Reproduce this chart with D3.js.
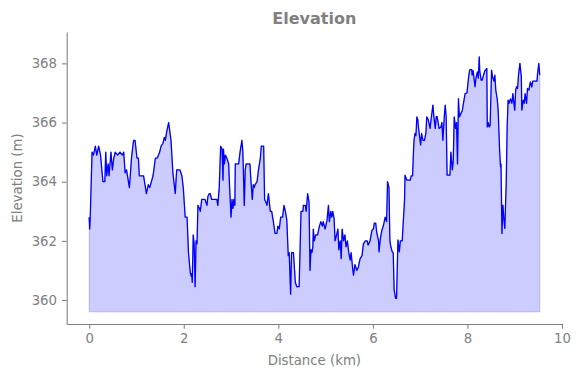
<!DOCTYPE html>
<html>
<head>
<meta charset="utf-8">
<script src="https://cdn.jsdelivr.net/npm/d3@7"></script>
<style>
  body { margin: 0; background: #fff; }
  svg { display: block; font-family: "DejaVu Sans", sans-serif; }
  .axis text { fill: #808080; font-size: 13.3px; font-family: "DejaVu Sans", sans-serif; }
  .axis path, .axis line { stroke: #808080; stroke-width: 1.07; }
</style>
</head>
<body>
<svg id="chart" width="580" height="378"></svg>
<script>
// distance along the route (km) and elevation (m)
const distKm = [
  0.00, 0.01, 0.02, 0.06, 0.09, 0.13, 0.16, 0.20, 0.24, 0.29, 0.33, 0.35, 0.37, 0.40, 0.42, 0.46,
  0.49, 0.52, 0.55, 0.60, 0.65, 0.70, 0.73, 0.76, 0.79, 0.85, 0.90, 0.94, 0.97, 1.01, 1.04, 1.06,
  1.15, 1.21, 1.25, 1.28, 1.35, 1.40, 1.44, 1.49, 1.52, 1.56, 1.59, 1.61, 1.64, 1.68, 1.73, 1.77,
  1.82, 1.85, 1.92, 1.96, 1.99, 2.03, 2.07, 2.10, 2.14, 2.16, 2.17, 2.18, 2.20, 2.22, 2.24, 2.26,
  2.28, 2.30, 2.33, 2.35, 2.38, 2.42, 2.45, 2.49, 2.51, 2.54, 2.56, 2.59, 2.70, 2.72, 2.75, 2.78,
  2.81, 2.83, 2.84, 2.86, 2.88, 2.91, 2.95, 2.97, 3.00, 3.02, 3.04, 3.06, 3.08, 3.09, 3.16, 3.19,
  3.23, 3.25, 3.28, 3.30, 3.32, 3.40, 3.42, 3.45, 3.47, 3.49, 3.51, 3.55, 3.58, 3.62, 3.64, 3.69,
  3.71, 3.74, 3.76, 3.79, 3.83, 3.86, 3.90, 3.93, 3.97, 3.99, 4.02, 4.05, 4.09, 4.12, 4.15, 4.18,
  4.21, 4.23, 4.26, 4.28, 4.32, 4.36, 4.39, 4.44, 4.48, 4.52, 4.53, 4.57, 4.59, 4.62, 4.65, 4.67,
  4.69, 4.71, 4.73, 4.74, 4.76, 4.79, 4.83, 4.87, 4.90, 4.93, 4.95, 4.99, 5.03, 5.06, 5.08, 5.11,
  5.13, 5.15, 5.18, 5.20, 5.24, 5.26, 5.28, 5.31, 5.33, 5.35, 5.38, 5.41, 5.43, 5.46, 5.49, 5.52,
  5.54, 5.57, 5.59, 5.62, 5.66, 5.69, 5.73, 5.77, 5.80, 5.84, 5.88, 5.90, 5.94, 5.98, 6.01, 6.03,
  6.06, 6.08, 6.12, 6.13, 6.16, 6.19, 6.22, 6.26, 6.29, 6.31, 6.34, 6.36, 6.38, 6.41, 6.43, 6.45,
  6.48, 6.50, 6.53, 6.56, 6.58, 6.62, 6.67, 6.68, 6.72, 6.79, 6.81, 6.84, 6.86, 6.87, 6.89, 6.91,
  6.93, 6.95, 6.96, 6.98, 7.01, 7.03, 7.06, 7.09, 7.12, 7.14, 7.17, 7.21, 7.23, 7.27, 7.29, 7.32,
  7.34, 7.36, 7.40, 7.44, 7.46, 7.48, 7.51, 7.53, 7.55, 7.57, 7.60, 7.63, 7.65, 7.68, 7.70, 7.72,
  7.75, 7.77, 7.79, 7.81, 7.83, 7.86, 7.89, 7.91, 7.95, 7.99, 8.01, 8.03, 8.05, 8.09, 8.10, 8.12,
  8.16, 8.18, 8.21, 8.23, 8.25, 8.26, 8.29, 8.31, 8.34, 8.37, 8.41, 8.42, 8.44, 8.46, 8.48, 8.51,
  8.53, 8.56, 8.58, 8.60, 8.63, 8.65, 8.68, 8.70, 8.71, 8.73, 8.75, 8.77, 8.79, 8.82, 8.84, 8.86,
  8.88, 8.91, 8.94, 8.96, 8.98, 9.00, 9.02, 9.04, 9.06, 9.08, 9.11, 9.14, 9.15, 9.18, 9.20, 9.22,
  9.25, 9.27, 9.30, 9.33, 9.36, 9.38, 9.47, 9.48, 9.51, 9.53
];

const elevM = [
  362.8, 362.4, 362.7, 365.0, 364.9, 365.2, 364.9, 365.2, 364.9, 364.0, 364.0, 365.0, 364.2, 364.6, 364.2, 365.0,
  364.4, 364.8, 365.0, 364.9, 365.0, 364.9, 365.0, 364.3, 364.4, 363.8, 364.9, 365.4, 365.4, 364.8, 364.8, 364.2,
  364.2, 363.6, 363.9, 363.8, 364.2, 364.8, 364.8, 365.0, 365.2, 365.3, 365.5, 365.4, 365.7, 366.0, 365.4, 364.3,
  363.6, 364.4, 364.4, 364.2, 363.8, 362.8, 362.8, 361.6, 360.9, 360.8, 360.9, 360.6, 362.2, 361.9, 360.45, 362.0,
  361.9, 363.2, 363.1, 363.0, 363.4, 363.4, 363.4, 363.2, 363.5, 363.6, 363.6, 363.4, 363.4, 363.2, 363.8, 365.2,
  365.1, 364.05, 365.1, 364.6, 364.9, 364.8, 364.6, 363.8, 362.8, 363.4, 363.1, 363.4, 363.2, 364.6, 364.6, 365.0,
  365.4, 365.0, 363.2, 364.4, 364.6, 364.6, 364.05, 363.4, 363.9, 363.8, 363.9, 364.0, 364.4, 364.8, 365.2, 365.2,
  363.4, 363.3, 363.2, 363.6, 363.0, 363.0, 362.6, 362.25, 362.25, 362.5, 362.4, 362.8, 362.8, 363.2, 363.0, 362.7,
  361.5, 361.6, 360.2, 361.6, 361.6, 360.6, 360.45, 360.45, 363.0, 363.0, 363.2, 363.2, 363.0, 363.6, 363.3, 361.0,
  361.7, 361.6, 361.8, 362.4, 362.0, 362.2, 362.2, 362.5, 362.65, 362.5, 362.65, 362.4, 362.7, 363.2, 362.65, 363.0,
  362.8, 363.0, 362.75, 362.0, 362.25, 362.4, 361.7, 362.0, 361.4, 362.4, 362.0, 362.2, 361.8, 362.0, 361.6, 361.35,
  361.6, 361.1, 360.84, 361.2, 361.0, 361.1, 361.4, 361.5, 361.9, 362.0, 362.0, 361.86, 362.0, 362.36, 362.4, 362.6,
  362.6, 362.3, 362.0, 361.63, 362.1, 362.36, 362.5, 362.8, 362.65, 364.0, 363.8, 362.0, 361.8, 361.63, 361.6, 360.34,
  360.06, 360.06, 362.03, 361.63, 362.0, 362.0, 363.4, 364.22, 364.05, 364.05, 364.2, 364.2, 365.07, 365.4, 365.63, 365.55,
  366.19, 366.1, 365.9, 365.63, 365.24, 365.63, 365.4, 365.4, 365.63, 366.19, 366.1, 365.8, 366.1, 366.59, 366.2, 365.8,
  366.2, 366.2, 365.8, 365.85, 366.0, 365.4, 366.2, 366.59, 366.2, 364.22, 364.22, 364.22, 365.0, 364.4, 364.7, 366.19,
  365.8, 366.0, 364.6, 366.81, 366.19, 366.3, 366.4, 366.6, 366.98, 367.0, 367.32, 367.6, 367.79, 367.79, 367.6, 367.75,
  367.21, 367.5, 367.71, 367.5, 368.22, 367.75, 367.43, 367.43, 367.6, 367.75, 367.83, 365.85, 366.0, 365.85, 365.9, 367.77,
  367.55, 367.4, 367.6, 367.09, 366.8, 366.42, 365.07, 364.5, 364.6, 362.25, 363.21, 362.75, 362.42, 363.94, 365.85, 366.76,
  366.65, 366.8, 366.65, 366.98, 366.7, 366.42, 367.1, 367.21, 367.15, 367.6, 368.0, 367.55, 366.42, 366.76, 366.65, 366.98,
  366.65, 367.15, 367.1, 367.37, 367.2, 367.4, 367.4, 367.6, 368.0, 367.6
];

const fillBase = 359.6;
const xTicks = [0, 2, 4, 6, 8, 10];
const yTicks = [360, 362, 364, 366, 368];
const xLimits = [-0.476, 10.0];
const yLimits = [359.19, 369.06];

const data = distKm.map((d, i) => ({ x: d, y: elevM[i] }));

const width = 580;
const height = 378;
const margin = { top: 32, right: 18, bottom: 54, left: 66.7 };

const svg = d3.select('#chart');

const x = d3.scaleLinear()
  .domain(xLimits)
  .range([margin.left, width - margin.right]);

const y = d3.scaleLinear()
  .domain(yLimits)
  .range([height - margin.bottom, margin.top]);

// filled area under the profile
svg.append('path')
  .datum(data)
  .attr('d', d3.area().x(d => x(d.x)).y0(y(fillBase)).y1(d => y(d.y)))
  .attr('fill', 'rgba(0,0,255,0.2)')
  .attr('stroke', 'rgba(0,0,255,0.2)')
  .attr('stroke-width', 1);

// the profile line itself
svg.append('path')
  .datum(data)
  .attr('d', d3.line().x(d => x(d.x)).y(d => y(d.y)))
  .attr('fill', 'none')
  .attr('stroke', '#0000ff')
  .attr('stroke-width', 1.3)
  .attr('stroke-linejoin', 'round');

const tickLen = 4.67;

svg.append('g')
  .attr('class', 'axis')
  .attr('transform', `translate(0,${height - margin.bottom})`)
  .call(d3.axisBottom(x).tickValues(xTicks).tickFormat(d3.format('d'))
    .tickSize(tickLen).tickSizeOuter(0).tickPadding(5));

svg.append('g')
  .attr('class', 'axis')
  .attr('transform', `translate(${margin.left},0)`)
  .call(d3.axisLeft(y).tickValues(yTicks).tickFormat(d3.format('d'))
    .tickSize(tickLen).tickSizeOuter(0).tickPadding(5));

svg.selectAll('.axis .domain').attr('stroke', '#808080');

// title and axis labels
svg.append('text')
  .attr('x', (margin.left + width - margin.right) / 2)
  .attr('y', 24)
  .attr('text-anchor', 'middle')
  .attr('fill', '#808080')
  .attr('font-size', 16)
  .attr('font-weight', 'bold')
  .text('Elevation');

svg.append('text')
  .attr('x', (margin.left + width - margin.right) / 2)
  .attr('y', 365)
  .attr('text-anchor', 'middle')
  .attr('fill', '#808080')
  .attr('font-size', 13.3)
  .text('Distance (km)');

svg.append('text')
  .attr('transform', `translate(22,${(margin.top + height - margin.bottom) / 2}) rotate(-90)`)
  .attr('text-anchor', 'middle')
  .attr('fill', '#808080')
  .attr('font-size', 13.3)
  .text('Elevation (m)');
</script>
</body>
</html>
